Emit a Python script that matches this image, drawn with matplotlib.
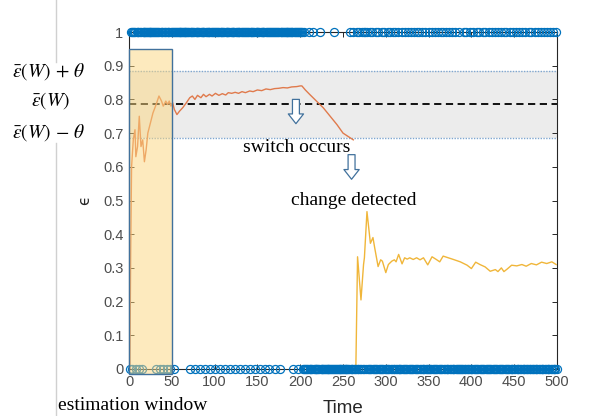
import numpy as np
import matplotlib.pyplot as plt
from matplotlib.patches import Rectangle
from matplotlib.lines import Line2D

# 0/1 outcomes over t = 1..500
n_steps = 500
switch_t = 203
zeros_before_switch = [1, 4, 8, 12, 15, 32, 36, 40, 44, 48, 52, 71, 77,
                       83, 89, 95, 100, 106, 112, 118, 124, 130, 135, 141,
                       147, 153, 159, 164, 170, 176, 192, 198]
ones_after_switch = [205, 210, 215, 223, 240,
                     258, 262, 266, 269, 272, 274, 276, 278, 281, 284,
                     288, 291, 295, 298, 302, 305, 308, 311, 314,
                     319, 322, 326, 329, 333, 336, 339, 342, 346,
                     351, 354, 358, 361, 364, 367, 370, 374, 377, 381, 385,
                     391, 394, 398, 402, 406, 409, 413, 416,
                     420, 424, 427, 431, 435, 438, 441,
                     445, 449, 452, 456, 459, 463, 467, 470,
                     474, 478, 481, 485, 488, 492, 495, 499]

# running estimate before the change is detected
est1_t = [1, 2, 3, 5, 7, 8, 10, 12, 14, 16, 18, 20, 22, 25, 28, 31, 35, 38,
          40, 43, 45, 47, 49, 51, 53, 56, 59, 63, 67, 71, 74, 77, 80, 84, 87,
          90, 94, 97, 101, 105, 109, 113, 116, 120, 124, 128, 132, 136, 141,
          145, 150, 155, 160, 165, 170, 175, 180, 185, 190, 196, 200, 202,
          206, 211, 219, 227, 235, 243, 250, 256, 262]
est1_v = [0.0, 0.35, 0.6, 0.68, 0.71, 0.63, 0.66, 0.75, 0.66, 0.68, 0.615,
          0.65, 0.70, 0.73, 0.76, 0.78, 0.81, 0.795, 0.78, 0.795, 0.785,
          0.795, 0.78, 0.79, 0.77, 0.755, 0.765, 0.776, 0.79, 0.805, 0.81,
          0.80, 0.812, 0.805, 0.815, 0.808, 0.815, 0.81, 0.818, 0.812, 0.817,
          0.813, 0.82, 0.818, 0.821, 0.818, 0.823, 0.82, 0.825, 0.823, 0.828,
          0.826, 0.831, 0.829, 0.832, 0.833, 0.835, 0.834, 0.837, 0.838,
          0.84, 0.84, 0.828, 0.815, 0.795, 0.775, 0.75, 0.725, 0.70, 0.69,
          0.68]

# running estimate after the change is detected
est2_t = [264, 265, 267, 271, 274, 275, 278, 282, 285, 287, 291, 294, 296,
          300, 303, 307, 310, 312, 315, 319, 322, 325, 328, 332, 336, 340,
          344, 349, 354, 359, 363, 367, 373, 379, 387, 395, 400, 405, 410,
          416, 422, 428, 431, 435, 438, 442, 447, 453, 459, 464, 470, 476,
          482, 488, 494, 499]
est2_v = [0.0, 0.0, 0.333, 0.205, 0.31, 0.33, 0.467, 0.373, 0.39, 0.36,
          0.304, 0.324, 0.32, 0.286, 0.31, 0.32, 0.324, 0.318, 0.34, 0.312,
          0.33, 0.326, 0.33, 0.325, 0.33, 0.324, 0.33, 0.309, 0.333, 0.325,
          0.318, 0.335, 0.33, 0.325, 0.318, 0.308, 0.298, 0.317, 0.31, 0.303,
          0.29, 0.295, 0.289, 0.30, 0.289, 0.297, 0.308, 0.306, 0.31, 0.305,
          0.313, 0.309, 0.317, 0.313, 0.318, 0.31]

eps_bar = 0.785
theta = 0.1
win_len = 50
win_top = 0.95

seq = np.zeros(n_steps)
seq[:switch_t - 1] = 1
seq[np.array(zeros_before_switch) - 1] = 0
seq[np.array(ones_after_switch) - 1] = 1
t_all = np.arange(1, n_steps + 1)

plt.rcParams['mathtext.fontset'] = 'stix'

fig = plt.figure(figsize=(6.04, 4.16), dpi=100)
ax = fig.add_axes([129 / 604, 1 - 369 / 416, 428 / 604, 337 / 416])

# threshold band around the mean
ax.axhspan(eps_bar - theta, eps_bar + theta, color='#ececec', lw=0, zorder=0)
for yb in (eps_bar - theta, eps_bar + theta):
    ax.axhline(yb, color='#7fa6cf', lw=1.0, ls=(0, (1, 1)), zorder=1)
ax.axhline(eps_bar, color='black', lw=1.3, ls=(0, (4, 2.5)), zorder=2)

ax.plot(est1_t, est1_v, color='#E07A4C', lw=1.0, zorder=3)
ax.plot(est2_t, est2_v, color='#F0B63A', lw=1.0, zorder=3)

ax.plot(t_all, seq, 'o', mfc='none', mec='#0072BD', ms=5.8, mew=0.9,
        clip_on=False, zorder=4)

# estimation window
ax.add_patch(Rectangle((0, -0.015), win_len, win_top + 0.015, fc='#FCD77F',
                       alpha=0.5, lw=0, zorder=5, clip_on=False))
ax.add_patch(Rectangle((0, -0.015), win_len, win_top + 0.015, fc='none',
                       ec='#41719C', lw=1.0, zorder=6, clip_on=False))

ax.set_xlim(0, 500)
ax.set_ylim(0, 1)
ax.set_xticks(np.arange(0, 501, 50))
ax.set_yticks(np.arange(0, 1.01, 0.1))
ax.set_yticklabels(['0', '0.1', '0.2', '0.3', '0.4', '0.5', '0.6', '0.7',
                    '0.8', '0.9', '1'])
ax.tick_params(direction='in', top=True, right=True, length=3.5, width=0.7,
               colors='#262626', labelcolor='#4d4d4d', labelsize=10.5,
               pad=4)
for sp in ax.spines.values():
    sp.set_color('#262626')
    sp.set_linewidth(0.8)
for lab in ax.get_xticklabels() + ax.get_yticklabels():
    lab.set_family('Liberation Sans')

ax.set_xlabel('Time', fontsize=13.5, family='Liberation Sans',
              color='#262626', labelpad=8)
ax.set_ylabel('\u03f5', fontsize=11, family='DejaVu Sans', color='#262626',
              labelpad=8)

arrow = dict(arrowstyle='simple,head_length=0.7,head_width=1.1,tail_width=0.5',
             fc='white', ec='#41719C', lw=0.9, shrinkA=0, shrinkB=0)
ax.annotate('', xy=(195, 0.728), xytext=(195, 0.80), arrowprops=arrow,
            zorder=7)
ax.annotate('', xy=(260, 0.563), xytext=(260, 0.636), arrowprops=arrow,
            zorder=7, annotation_clip=False)

serif = dict(family='Liberation Serif', fontsize=14, color='black')
fig.text(297 / 604, 1 - 147 / 416, 'switch occurs', ha='center', va='center',
         **serif)
fig.text(354 / 604, 1 - 201 / 416, 'change detected', ha='center',
         va='center', **serif)
fig.text(133 / 604, 1 - 406 / 416, 'estimation window', ha='center',
         va='center', **serif)

math = dict(fontsize=14, ha='center', va='center', color='black')
fig.text(49 / 604, 1 - 72 / 416, r'$\bar{\epsilon}(W)\,+\,\theta$', **math)
fig.text(50 / 604, 1 - 101 / 416, r'$\bar{\epsilon}(W)$', **math)
fig.text(49 / 604, 1 - 133 / 416, r'$\bar{\epsilon}(W)\,-\,\theta$', **math)

# divider on the left margin
fig.add_artist(Line2D([56 / 604, 56 / 604], [0, 1 - 143 / 416],
                      color='#d0d0d0', lw=1))
fig.add_artist(Line2D([56 / 604, 56 / 604], [1 - 62 / 416, 1],
                      color='#d0d0d0', lw=1))

fig.savefig('out.png', dpi=100)
